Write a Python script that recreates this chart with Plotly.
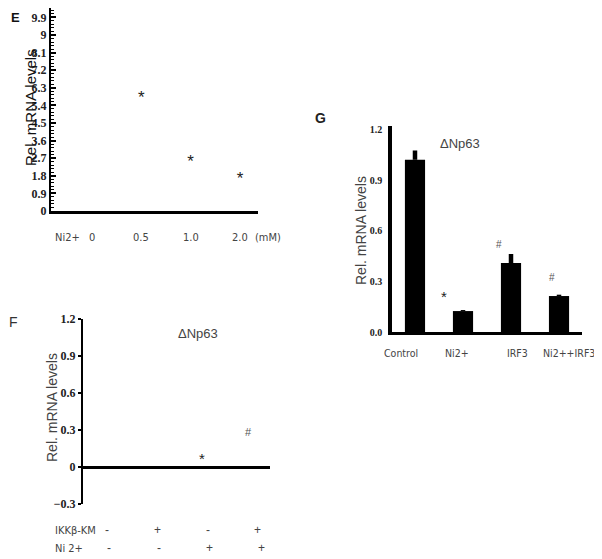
import plotly.graph_objects as go

# The page body has an 8px margin, so the figure is drawn 8px smaller
# and all reference pixel positions are shifted by 8px.
OFF = 8
W, H = 602 - OFF, 559 - OFF

# ---------------- data ----------------
# Panel E
e_doses = ["0", "0.5", "1.0", "2.0"]
e_star_pos = [1, 2, 3]
e_star_vals = [5.75, 2.45, 1.6]

# Panel F
f_ikk = ["-", "+", "-", "+"]
f_ni = ["-", "-", "+", "+"]
f_mark_pos = [2, 3]
f_mark_vals = [0.065, 0.28]
f_mark_text = ["*", "#"]

# Panel G
g_groups = ["Control", "Ni2+", "IRF3", "Ni2++IRF3"]
g_vals = [1.02, 0.124, 0.408, 0.213]
g_errs = [0.055, 0.006, 0.054, 0.008]
g_mark_pos = [1, 2, 3]
g_mark_vals = [0.21, 0.52, 0.32]
g_mark_text = ["*", "#", "#"]


def px(x):
    return min(max((x - OFF) / W, 0), 1)


def py(y):
    return min(max(1 - (y - OFF) / H, 0), 1)


fig = go.Figure()

# ---- E ----
fig.add_trace(go.Scatter(
    x=e_star_pos, y=e_star_vals, mode="text", text=["*"] * len(e_star_pos),
    textfont=dict(family="Liberation Sans, Arial", size=17, color="#222"),
    xaxis="x", yaxis="y", showlegend=False, hoverinfo="skip"))

# ---- F ----
fig.add_trace(go.Scatter(
    x=[0, 1, 2, 3], y=[None] * 4, mode="markers", xaxis="x2", yaxis="y2",
    showlegend=False, hoverinfo="skip"))

# ---- G ----
fig.add_trace(go.Bar(
    x=list(range(len(g_groups))), y=g_vals, width=0.42,
    marker=dict(color="black", line=dict(width=0)),
    error_y=dict(type="data", symmetric=False, array=g_errs,
                 arrayminus=[0] * len(g_errs), color="black",
                 thickness=4.5, width=0),
    xaxis="x3", yaxis="y3", showlegend=False, hoverinfo="skip"))

tick_serif = dict(family="Liberation Serif, Times New Roman", size=12,
                  color="#222", weight="bold")
tick_serif_small = dict(family="Liberation Serif, Times New Roman", size=10,
                        color="#222", weight="bold")

layout = dict(
    template="none",
    width=W, height=H, margin=dict(l=0, r=0, t=0, b=0, autoexpand=False),
    plot_bgcolor="white", paper_bgcolor="white",
    # E axes
    xaxis=dict(domain=[px(51), px(258)], range=[-0.831, 3.365],
               showline=True, linewidth=2.5, linecolor="black",
               showticklabels=False, ticks="", showgrid=False, zeroline=False,
               automargin=False),
    yaxis=dict(domain=[py(211), 1], range=[0, 10.38], tick0=0, dtick=0.9,
               showline=True, linewidth=2, linecolor="black",
               ticks="inside", ticklen=5, tickwidth=1.5, tickcolor="black",
               minor=dict(dtick=0.18, tick0=0, ticks="inside", ticklen=3,
                          tickwidth=1, tickcolor="black", showgrid=False),
               tickfont=tick_serif, showgrid=False, zeroline=False,
               anchor="x", automargin=False),
    # F axes
    xaxis2=dict(domain=[px(83), px(270)], range=[-0.477, 3.24],
                showline=False, showticklabels=False, ticks="",
                showgrid=False, zeroline=False, anchor="y2", automargin=False),
    yaxis2=dict(domain=[py(504), py(319)], range=[-0.3, 1.2], tick0=0,
                dtick=0.3, showline=True, linewidth=2, linecolor="black",
                ticks="outside", ticklen=3, tickwidth=1.5, tickcolor="black",
                tickfont=tick_serif, showgrid=False, zeroline=True,
                zerolinewidth=2.5, zerolinecolor="black", anchor="x2",
                automargin=False),
    # G axes
    xaxis3=dict(domain=[px(392), px(582)], range=[-0.479, 3.479],
                showline=True, linewidth=3, linecolor="black",
                showticklabels=False, ticks="", showgrid=False,
                zeroline=False, anchor="y3", automargin=False),
    yaxis3=dict(domain=[py(332), py(126)], range=[0, 1.22],
                tickvals=[0, 0.3, 0.6, 0.9, 1.2], tickformat=".1f",
                showline=True, linewidth=3.5, linecolor="black",
                ticks="", ticklabelstandoff=4,
                tickfont=tick_serif_small, showgrid=False, zeroline=False,
                anchor="x3", automargin=False),
)
fig.update_layout(**layout)

anns = []
sans = "Liberation Sans, Arial"
narrow = "Liberation Sans Narrow, DejaVu Sans Condensed, Liberation Sans, Arial"
gray = "#444"


def ann(**kw):
    d = dict(showarrow=False, xanchor="center", yanchor="middle")
    d.update(kw)
    anns.append(d)


# Panel letters
ann(x=px(15), y=py(18), xref="paper", yref="paper", text="E",
    font=dict(family=sans, size=13, color="#111", weight="bold"))
ann(x=px(13), y=py(322), xref="paper", yref="paper", text="F",
    font=dict(family=sans, size=14, color="#333"))
ann(x=px(320), y=py(118), xref="paper", yref="paper", text="G",
    font=dict(family=sans, size=14, color="#222", weight="bold"))

# Y titles
ann(x=px(30), y=py(108), xref="paper", yref="paper",
    text="Rel. mRNA levels", textangle=-90,
    font=dict(family=sans, size=15, color="#111"))
ann(x=px(52), y=py(408), xref="paper", yref="paper",
    text="Rel. mRNA levels", textangle=-90,
    font=dict(family=sans, size=14, color=gray))
ann(x=px(361), y=py(231), xref="paper", yref="paper",
    text="Rel. mRNA levels", textangle=-90,
    font=dict(family=sans, size=14, color=gray))

# E x labels
for i, t in enumerate(e_doses):
    ann(x=i, y=py(238), xref="x", yref="paper", text=t,
        font=dict(family=narrow, size=11, color=gray))
ann(x=px(67), y=py(238), xref="paper", yref="paper", text="Ni2+",
    font=dict(family=narrow, size=11, color=gray))
ann(x=px(268), y=py(238), xref="paper", yref="paper", text="(mM)",
    font=dict(family=narrow, size=11, color=gray))

# F title + marks + rows
ann(x=px(198), y=py(333), xref="paper", yref="paper", text="ΔNp63",
    font=dict(family=sans, size=13, color=gray))
f_shift = [-6, -9]
for p, v, t, s in zip(f_mark_pos, f_mark_vals, f_mark_text, f_shift):
    ann(x=p, y=v, xref="x2", yref="y2", text=t, xshift=s,
        font=dict(family=sans, size=15 if t == "*" else 11,
                  color="#222" if t == "*" else "#555"))
ann(x=px(53), y=py(530), xref="paper", yref="paper", text="IKKβ-KM",
    xanchor="left", font=dict(family=narrow, size=11, color=gray))
ann(x=px(53), y=py(548), xref="paper", yref="paper", text="Ni 2+",
    xanchor="left", font=dict(family=narrow, size=11, color=gray))
row1_shift = [0, 0, 0, 0]
row2_shift = [2, 2, 2, 4]
for i, (a, b) in enumerate(zip(f_ikk, f_ni)):
    ann(x=i, y=py(530), xref="x2", yref="paper", text=a, xshift=row1_shift[i],
        font=dict(family=sans, size=12, color=gray))
    ann(x=i, y=py(548), xref="x2", yref="paper", text=b, xshift=row2_shift[i],
        font=dict(family=sans, size=12, color=gray))

# G title, marks, x labels
ann(x=px(460), y=py(143), xref="paper", yref="paper", text="ΔNp63",
    font=dict(family=sans, size=13, color=gray))
g_shift = [-19, -12, -7]
for p, v, t, s in zip(g_mark_pos, g_mark_vals, g_mark_text, g_shift):
    ann(x=p, y=v, xref="x3", yref="y3", text=t, xshift=s,
        font=dict(family=sans, size=15 if t == "*" else 10,
                  color="#222" if t == "*" else "#555"))
g_label_shift = [-14, -6, 6, 10]
for i, t in enumerate(g_groups):
    ann(x=i, y=py(353), xref="x3", yref="paper", text=t, xshift=g_label_shift[i],
        font=dict(family=narrow, size=10.5, color=gray))

fig.update_layout(annotations=anns)
fig.write_html("out.html")
